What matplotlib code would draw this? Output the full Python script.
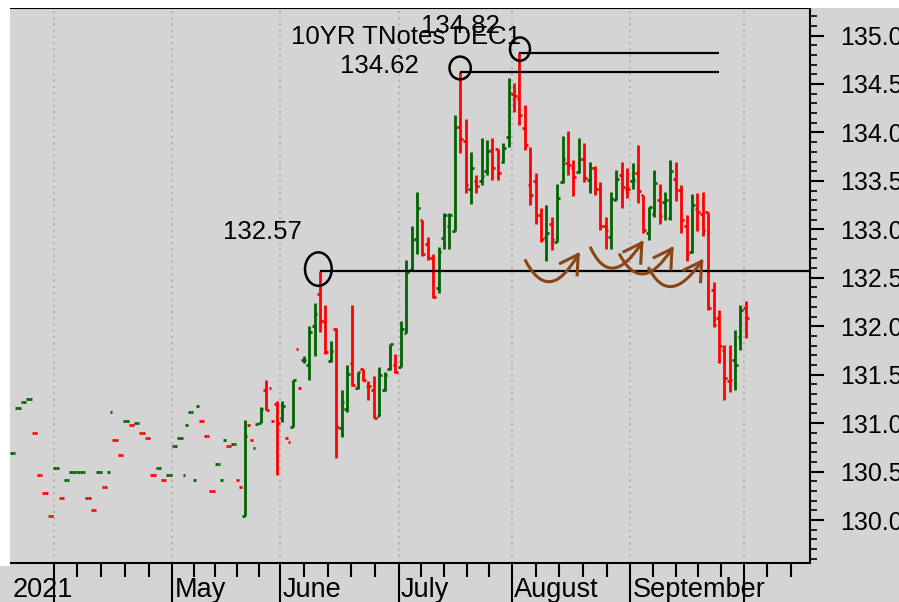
import numpy as np
import matplotlib.pyplot as plt
from matplotlib.patches import Ellipse, Rectangle
from matplotlib.path import Path
from matplotlib.patches import PathPatch
from matplotlib.ticker import MultipleLocator, FormatStrFormatter, FixedLocator

nan = np.nan

# daily bars, index 0 = first session on the chart (late March 2021)
opens = [130.69, 131.16, 131.22, 131.25, 130.90, 130.47, 130.28, 130.04, 130.54, 130.23,
         130.41, 130.50, 130.50, 130.50, 130.23, 130.10, 130.50, 130.34, 130.50, 130.83,
         130.67, 131.02, 130.98, 131.00, 130.90, 130.85, 130.47, 130.54, 130.41, 130.47,
         130.76, 130.85, 130.47, 131.11, 130.41, 131.02, 130.87, 130.30, 130.58, 130.41,
         130.76, 130.78, 130.41, 130.04, 130.98, 130.74, 131.00, 131.34, 131.36, 131.20,
         131.05, 130.85, 130.96, 131.77, 131.65, 131.60, 132.00, 132.33, 132.04, 131.64,
         131.97, 130.95, 131.15, 131.62, 131.36, 131.56, 131.38, 131.34, 131.07, 131.34,
         131.56, 131.60, 131.58, 131.93, 132.58, 132.90, 133.10, 132.85, 132.70, 132.39,
         132.91, 133.03, 132.98, 134.06, 133.91, 133.42, 133.50, 133.50, 133.60, 133.82,
         133.83, 133.70, 133.95, 134.40, 134.34, 134.05, 133.46, 133.50, 133.15, 132.92,
         133.05, 132.87, 133.49, 133.68, 133.63, 133.59, 133.73, 133.51, 133.63, 133.42,
         133.03, 132.92, 133.30, 133.56, 133.42, 133.50, 133.58, 133.35, 132.96, 133.16,
         133.30, 133.28, 133.12, 133.52, 133.41, 133.03, 132.77, 133.21, 133.16, 133.18,
         132.37, 132.08, 131.75, 131.43, 131.65, 131.89, 132.19]
highs = [nan] * 43 + [131.03, nan, nan, 131.17, 131.45, nan, 131.23,
         131.23, nan, 131.45, nan, 131.69, 132.00, 132.24, 132.57, 132.22, 131.85,
         131.98, 131.34, 131.60, 132.22, 131.53, 131.56, 131.43, 131.49, 131.58, 131.53,
         131.82, 131.71, 132.05, 132.68, 133.03, 133.39, 133.10, 132.92, 132.75, 132.82,
         133.17, 133.17, 134.18, 134.62, 134.14, 133.80, 133.56, 133.94, 133.92, 133.94,
         133.83, 133.89, 134.56, 134.51, 134.82, 134.28, 133.85, 133.58, 133.22, 133.25,
         133.13, 133.47, 133.96, 134.01, 133.72, 133.94, 133.89, 133.70, 133.65, 133.49,
         133.13, 133.39, 133.61, 133.70, 133.63, 133.68, 133.87, 133.35, 133.23, 133.61,
         133.47, 133.39, 133.72, 133.70, 133.46, 133.15, 133.36, 133.37, 133.39, 133.18,
         132.46, 132.17, 131.81, 131.81, 131.96, 132.22, 132.26]
lows = [nan] * 43 + [130.04, nan, nan, 131.00, 131.14, nan, 130.46,
        131.01, nan, 130.96, nan, 131.62, 131.45, 131.69, 131.94, 131.71, 131.63,
        130.64, 130.86, 131.12, 131.38, 131.35, 131.43, 131.24, 131.05, 131.07, 131.33,
        131.55, 131.52, 131.58, 131.93, 132.58, 132.75, 132.72, 132.68, 132.29, 132.34,
        132.80, 132.80, 132.98, 133.79, 133.37, 133.26, 133.37, 133.46, 133.56, 133.51,
        133.51, 133.68, 133.85, 134.21, 134.08, 133.82, 133.25, 133.06, 132.87, 132.67,
        132.79, 132.87, 133.48, 133.56, 133.34, 133.58, 133.49, 133.37, 133.35, 132.99,
        132.80, 132.80, 133.30, 133.22, 133.32, 133.42, 133.27, 132.96, 132.89, 133.13,
        133.06, 133.10, 133.10, 133.29, 132.96, 132.67, 132.76, 132.98, 132.93, 132.17,
        131.99, 131.62, 131.24, 131.32, 131.34, 131.75, 131.88]
closes = [130.69, 131.16, 131.22, 131.25, 130.90, 130.47, 130.28, 130.04, 130.54, 130.23,
          130.41, 130.50, 130.50, 130.50, 130.23, 130.10, 130.50, 130.34, 131.11, 130.83,
          130.67, 131.02, 130.98, 131.00, 130.90, 130.85, 130.47, 130.54, 130.41, 130.47,
          130.76, 130.85, 130.98, 131.11, 131.18, 131.02, 130.87, 130.30, 130.58, 130.83,
          130.76, 130.78, 130.34, 130.87, 130.83, 130.99, 131.15, 131.14, 131.02, 131.00,
          131.18, 130.81, 131.45, 131.36, 131.65, 131.94, 132.13, 132.05, 131.73, 131.74,
          130.96, 131.22, 131.51, 131.39, 131.53, 131.45, 131.38, 131.05, 131.50, 131.50,
          131.82, 131.53, 131.97, 132.56, 132.89, 133.22, 132.75, 132.70, 132.30, 132.77,
          133.15, 133.15, 134.06, 133.93, 133.46, 133.63, 133.45, 133.55, 133.81, 133.63,
          133.58, 133.84, 134.41, 134.38, 134.18, 133.87, 133.35, 133.15, 132.90, 132.96,
          132.90, 133.32, 133.73, 133.66, 133.54, 133.73, 133.53, 133.63, 133.42, 133.03,
          132.99, 133.31, 133.52, 133.44, 133.42, 133.51, 133.40, 132.99, 133.23, 133.48,
          133.14, 133.30, 133.60, 133.41, 133.10, 132.75, 133.25, 133.18, 132.99, 132.19,
          132.01, 131.80, 131.47, 131.45, 131.60, 132.17, 132.09]

# first session of each month (Apr .. Oct)
month_starts = [8, 30, 50, 72, 93, 115, 136]
month_names = ["", "May", "June", "July", "August", "September", ""]

# marked highs: (bar, value)
marked = [(57, 132.57), (83, 134.62), (94, 134.82)]

# hand-drawn arrows: start, bottom of swing, tip  (bar, price)
arrows = [((95.0, 132.69), (99.7, 132.46), (104.9, 132.74)),
          ((107.1, 132.82), (111.4, 132.60), (116.7, 132.86)),
          ((112.5, 132.75), (117.0, 132.54), (122.3, 132.80)),
          ((117.9, 132.61), (122.3, 132.41), (127.8, 132.67))]

RED = "#ff0000"
GREEN = "#006400"
BG = "#d4d4d4"
FONT = ["Liberation Sans", "DejaVu Sans"]

o = np.array(opens); h = np.array(highs); l = np.array(lows); c = np.array(closes)
x = np.arange(len(c))
prev = np.r_[c[0], c[:-1]]
cols = np.where(c >= prev, GREEN, RED)

fig = plt.figure(figsize=(8.99, 6.02), dpi=100)
fig.patch.set_facecolor(BG)
fig.patches.append(Rectangle((0, 1 - 8 / 602), 1, 8 / 602, transform=fig.transFigure,
                             facecolor="white", edgecolor="none"))
fig.patches.append(Rectangle((0, 1 - 566 / 602), 10 / 899, 558 / 602, transform=fig.transFigure,
                             facecolor="white", edgecolor="none"))

ax = fig.add_axes([10 / 899, 1 - 563 / 602, 800 / 899, 555 / 602])
ax.set_facecolor(BG)
ax.set_xlim(-0.5, 147.9)
ax.set_ylim(129.557, 135.284)

# month separators
for m in month_starts:
    ax.axvline(m - 0.4, color="#b4b4b4", lw=1.5, ls=(0, (1, 2)), zorder=0)

# OHLC bars
ax.vlines(x, l, h, colors=cols, lw=2, zorder=3)
ax.hlines(o, x - 0.5, x, colors=cols, lw=2, zorder=3)
ax.hlines(c, x, x + 0.5, colors=cols, lw=2, zorder=3)

# marked highs
for (b, v) in marked:
    end = ax.get_xlim()[1] if b == 57 else 131
    ax.hlines(v, b, end, color="black", lw=1.6, zorder=4)
ax.add_patch(Ellipse((56.7, 132.59), 4.95, 0.345, fill=False, lw=1.8, ec="black", zorder=5))
ax.add_patch(Ellipse((83.0, 134.665), 3.95, 0.235, fill=False, lw=1.8, ec="black", zorder=5))
ax.add_patch(Ellipse((94.1, 134.86), 3.7, 0.24, fill=False, lw=1.8, ec="black", zorder=5))

ax.text(46.3, 132.97, "132.57", fontsize=18.5, family=FONT, ha="center", va="center")
ax.text(68.0, 134.69, "134.62", fontsize=18.5, family=FONT, ha="center", va="center")
ax.text(51.6, 134.98, "10YR TNotes DEC1", fontsize=18.5, family=FONT, ha="left", va="center")
ax.text(83.0, 135.10, "134.82", fontsize=18.5, family=FONT, ha="center", va="center")

# arrows
for p0, pb, p2 in arrows:
    p0 = np.array(p0); pb = np.array(pb); p2 = np.array(p2)
    p1 = 2 * pb - 0.5 * (p0 + p2)
    path = Path([p0, p1, p2], [Path.MOVETO, Path.CURVE3, Path.CURVE3])
    ax.add_patch(PathPatch(path, fill=False, ec="#8b4513", lw=2.2, zorder=6))
    ax.plot([p2[0] - 3.3, p2[0]], [p2[1] - 0.09, p2[1]], color="#8b4513", lw=2.2, zorder=6)
    ax.plot([p2[0], p2[0] - 0.2], [p2[1], p2[1] - 0.21], color="#8b4513", lw=2.2, zorder=6)

# axes styling
ax.spines["left"].set_visible(False)
for s in ["top", "right", "bottom"]:
    ax.spines[s].set_linewidth(1.5)

ax.yaxis.tick_right()
ax.yaxis.set_major_locator(MultipleLocator(0.5))
ax.yaxis.set_minor_locator(MultipleLocator(0.1))
ax.yaxis.set_major_formatter(FormatStrFormatter("%.1f"))
ax.tick_params(axis="y", which="major", length=10, width=1.5, labelsize=18, pad=12)
ax.tick_params(axis="y", which="minor", length=5, width=1.2)
for t in ax.get_yticklabels():
    t.set_family(FONT)

tick_pos = [m - 0.4 for m in month_starts]
minor_pos = []
for a, b in zip(tick_pos[:-1], tick_pos[1:]):
    minor_pos += list(np.linspace(a, b, 6)[1:-1])
minor_pos += [tick_pos[-1] + k * (tick_pos[1] - tick_pos[0]) / 5 for k in (1, 2, 3)]
ax.xaxis.set_major_locator(FixedLocator(tick_pos))
ax.xaxis.set_minor_locator(FixedLocator(minor_pos))
ax.set_xticklabels([])
ax.tick_params(axis="x", which="major", length=30, width=1.5)
ax.tick_params(axis="x", which="minor", length=10, width=1.5)

label_y = -(597 - 563) / 555
ax.text(0.0, label_y, "2021", transform=ax.get_xaxis_transform(), fontsize=19.5,
        family=FONT, ha="left", va="baseline")
for pos, name in zip(tick_pos, month_names):
    if name:
        ax.text(pos + 0.4, label_y, name, transform=ax.get_xaxis_transform(), fontsize=19.5,
                family=FONT, ha="left", va="baseline")

fig.savefig("out.png", dpi=100, facecolor=fig.get_facecolor())
